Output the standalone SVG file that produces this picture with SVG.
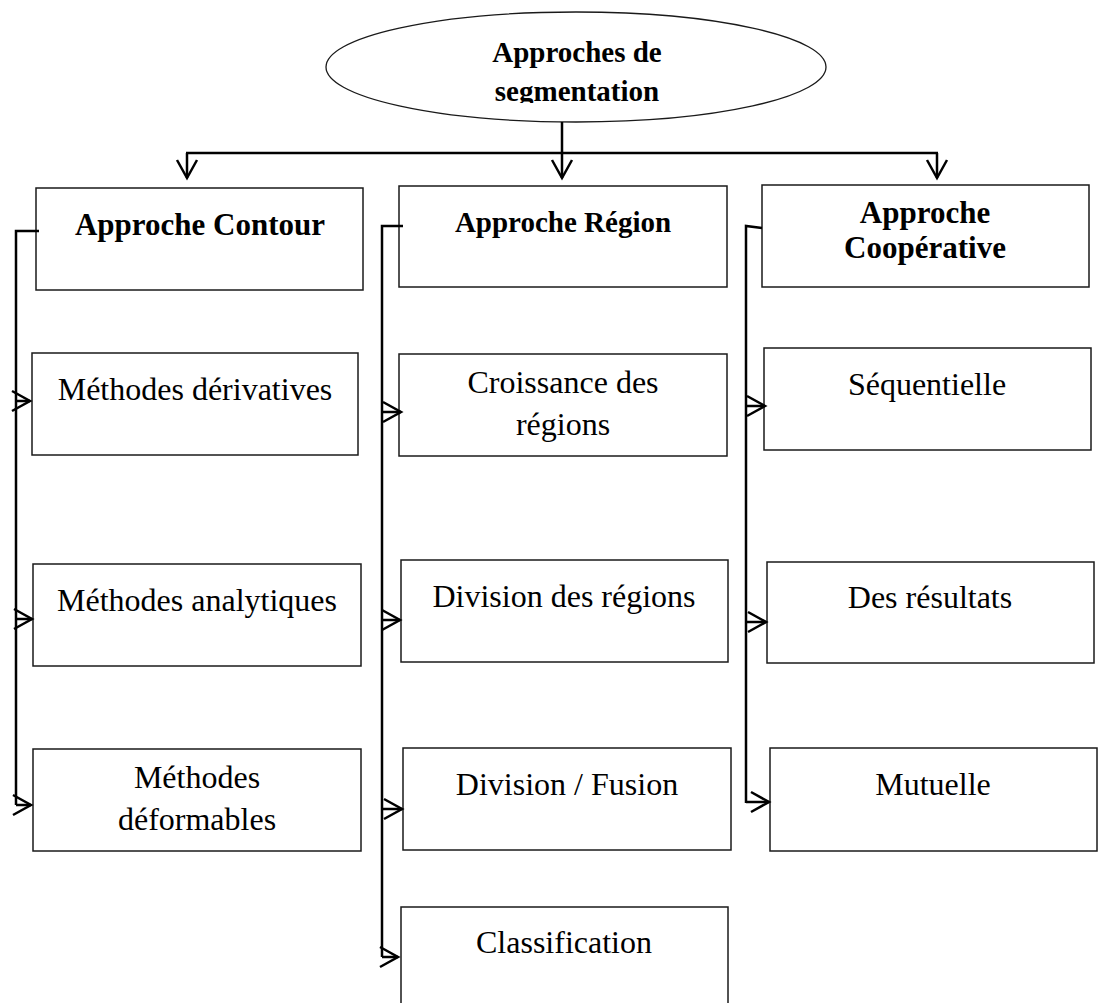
<svg xmlns="http://www.w3.org/2000/svg" width="1098" height="1003" viewBox="0 0 1098 1003">
<style>
.box{fill:#fff;stroke:#1a1a1a;stroke-width:1.5}
.conn{fill:none;stroke:#000;stroke-width:2.5}
.t{font-family:"Liberation Serif","Times New Roman",serif;font-size:32px;fill:#000;text-anchor:middle}
.b{font-weight:bold;font-size:31px}
</style>
<defs>
<marker id="ah" markerUnits="userSpaceOnUse" markerWidth="24" markerHeight="24" refX="19" refY="11" orient="auto" overflow="visible">
<path d="M1,1 L19,11 L1,21" fill="none" stroke="#000" stroke-width="2.5"/>
</marker>
<clipPath id="ec"><rect x="300" y="0" width="560" height="103"/></clipPath>
</defs>
<rect width="1098" height="1003" fill="#fff"/>
<g id="root">
<ellipse cx="576" cy="67" rx="250" ry="55" fill="#fff" stroke="#1a1a1a" stroke-width="1.3"/>
<g clip-path="url(#ec)">
<text class="t b" x="577" y="62" style="font-size:29px">Approches de</text>
<text class="t b" x="577" y="101" style="font-size:29px">segmentation</text>
</g>
</g>
<g id="contour"><rect class="box" x="36" y="188" width="327" height="102"/><text class="t b" x="200" y="235">Approche Contour</text></g>
<g id="region"><rect class="box" x="399" y="186" width="328" height="101"/><text class="t b" x="563" y="232" style="font-size:29px">Approche Région</text></g>
<g id="coop"><rect class="box" x="762" y="185" width="327" height="102"/><text class="t b" x="925" y="223">Approche</text><text class="t b" x="925" y="258">Coopérative</text></g>
<g id="derivatives"><rect class="box" x="32" y="353" width="326" height="102"/><text class="t" x="195" y="400">Méthodes dérivatives</text></g>
<g id="analytiques"><rect class="box" x="33" y="564" width="328" height="102"/><text class="t" x="197" y="611">Méthodes analytiques</text></g>
<g id="deformables"><rect class="box" x="33" y="749" width="328" height="102"/><text class="t" x="197" y="788">Méthodes</text><text class="t" x="197" y="830">déformables</text></g>
<g id="croissance"><rect class="box" x="399" y="354" width="328" height="102"/><text class="t" x="563" y="393">Croissance des</text><text class="t" x="563" y="435">régions</text></g>
<g id="division"><rect class="box" x="401" y="560" width="327" height="102"/><text class="t" x="564" y="607">Division des régions</text></g>
<g id="fusion"><rect class="box" x="403" y="748" width="328" height="102"/><text class="t" x="567" y="795">Division / Fusion</text></g>
<g id="classification"><rect class="box" x="401" y="907" width="327" height="110"/><text class="t" x="564" y="953">Classification</text></g>
<g id="sequentielle"><rect class="box" x="764" y="348" width="327" height="102"/><text class="t" x="927" y="395">Séquentielle</text></g>
<g id="resultats"><rect class="box" x="767" y="562" width="327" height="101"/><text class="t" x="930" y="608">Des résultats</text></g>
<g id="mutuelle"><rect class="box" x="770" y="748" width="327" height="103"/><text class="t" x="933" y="795">Mutuelle</text></g>
<g id="connectors">
<path class="conn" d="M562,122 V153 M186,153 H938"/>
<path class="conn" d="M187,153 V178" marker-end="url(#ah)"/>
<path class="conn" d="M562,153 V178" marker-end="url(#ah)"/>
<path class="conn" d="M937,153 V178" marker-end="url(#ah)"/>
<path class="conn" d="M39,231 H16 V805"/>
<path class="conn" d="M16,401 H30" marker-end="url(#ah)"/>
<path class="conn" d="M16,619 H32" marker-end="url(#ah)"/>
<path class="conn" d="M16,805 H31" marker-end="url(#ah)"/>
<path class="conn" d="M403,226 H382 V957"/>
<path class="conn" d="M382,412 H401" marker-end="url(#ah)"/>
<path class="conn" d="M382,620 H400" marker-end="url(#ah)"/>
<path class="conn" d="M382,809 H402" marker-end="url(#ah)"/>
<path class="conn" d="M382,957 H398" marker-end="url(#ah)"/>
<path class="conn" d="M762,228 L746,226 V803"/>
<path class="conn" d="M746,406 H765" marker-end="url(#ah)"/>
<path class="conn" d="M746,622 H766" marker-end="url(#ah)"/>
<path class="conn" d="M746,802 H769" marker-end="url(#ah)"/>
</g>
</svg>
